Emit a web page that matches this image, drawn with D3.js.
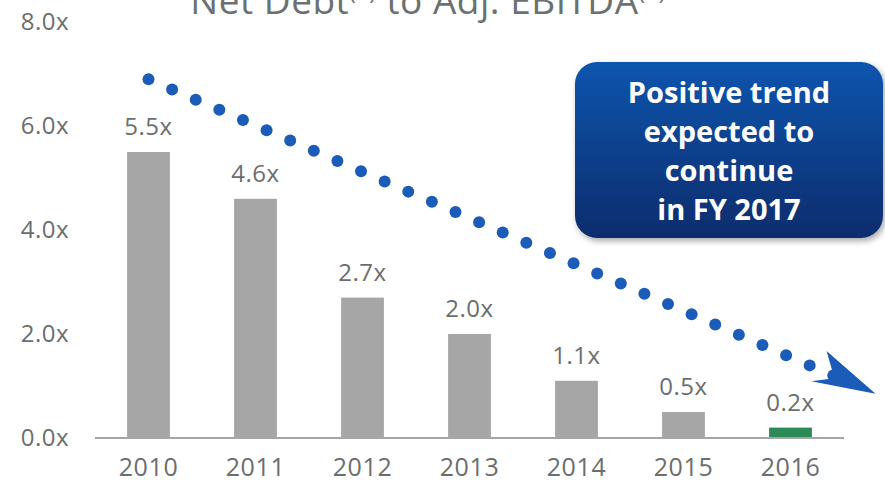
<!DOCTYPE html>
<html>
<head>
<meta charset="utf-8">
<script src="https://cdn.jsdelivr.net/npm/d3@7"></script>
<style>
  body { margin: 0; background: #fff; }
  svg { display: block; font-family: "Open Sans", "Liberation Sans", sans-serif; }
</style>
</head>
<body>
<div id="chart"></div>
<script>
// data
var years = ["2010", "2011", "2012", "2013", "2014", "2015", "2016"];
var ratios = [5.5, 4.6, 2.7, 2.0, 1.1, 0.5, 0.2];
var ratioLabels = ["5.5x", "4.6x", "2.7x", "2.0x", "1.1x", "0.5x", "0.2x"];
var yTicks = [0, 2, 4, 6, 8];
// trend line: start / end in (year position, value)
var trendYears = [2010, 2016.4];
var trendValues = [6.9, 1.2];
var calloutLines = ["Positive trend", "expected to", "continue", "in FY 2017"];

var width = 885, height = 485;
var margin = { top: 22, right: 41, bottom: 47, left: 95 };
var chartWidth = width - margin.left - margin.right;
var chartHeight = height - margin.top - margin.bottom;

var svg = d3.select("#chart").append("svg")
    .attr("width", width)
    .attr("height", height);

var defs = svg.append("defs");
var grad = defs.append("linearGradient")
    .attr("id", "boxGrad")
    .attr("x1", 0).attr("y1", 0).attr("x2", 0).attr("y2", 1);
grad.append("stop").attr("offset", "0%").attr("stop-color", "#0b55ae");
grad.append("stop").attr("offset", "100%").attr("stop-color", "#0a2c6c");
var shadow = defs.append("filter").attr("id", "shadow")
    .attr("x", "-10%").attr("y", "-10%").attr("width", "130%").attr("height", "130%");
shadow.append("feDropShadow")
    .attr("dx", 2).attr("dy", 3).attr("stdDeviation", 3)
    .attr("flood-color", "#000").attr("flood-opacity", 0.35);

var chartGroup = svg.append("g")
    .attr("transform", `translate(${margin.left}, ${margin.top})`);

// scales
var xScale = d3.scaleBand()
    .domain(years)
    .range([0, chartWidth])
    .paddingInner(0.6)
    .paddingOuter(0.3);

var yScale = d3.scaleLinear()
    .domain([0, 8])
    .range([chartHeight, 0]);

// linear year scale for the trend dots, aligned with band centres
var yearScale = d3.scaleLinear()
    .domain([2010, 2016])
    .range([xScale("2010") + xScale.bandwidth() / 2, xScale("2016") + xScale.bandwidth() / 2]);

// title (cut off at the top like the original)
svg.append("text")
    .attr("x", 428)
    .attr("y", 14)
    .attr("text-anchor", "middle")
    .attr("fill", "#6b7170")
    .attr("font-size", "37px")
    .attr("letter-spacing", "0.5px")
    .html('Net Debt<tspan font-size="22px" dy="-14">(1)</tspan><tspan dy="14"> to Adj. EBITDA</tspan><tspan font-size="22px" dy="-14">(1)</tspan>');

// y axis labels
chartGroup.selectAll(".ytick")
    .data(yTicks)
    .enter()
    .append("text")
    .attr("class", "ytick")
    .attr("x", -26)
    .attr("y", d => yScale(d))
    .attr("dy", "0.35em")
    .attr("text-anchor", "end")
    .attr("fill", "#6b6e6e")
    .attr("font-size", "24px")
    .attr("letter-spacing", "0.5px")
    .text(d => d.toFixed(1) + "x");

// bars
chartGroup.selectAll("rect.bar")
    .data(ratios)
    .enter()
    .append("rect")
    .attr("class", "bar")
    .attr("x", (d, i) => xScale(years[i]))
    .attr("y", d => yScale(d))
    .attr("width", xScale.bandwidth())
    .attr("height", d => chartHeight - yScale(d))
    .attr("fill", (d, i) => i === years.length - 1 ? "#2b8a57" : "#a6a6a6");

// value labels
chartGroup.selectAll("text.val")
    .data(ratios)
    .enter()
    .append("text")
    .attr("class", "val")
    .attr("x", (d, i) => xScale(years[i]) + xScale.bandwidth() / 2)
    .attr("y", d => yScale(d) - 17)
    .attr("text-anchor", "middle")
    .attr("fill", "#6b6e6e")
    .attr("font-size", "24px")
    .attr("letter-spacing", "0.5px")
    .text((d, i) => ratioLabels[i]);

// baseline
chartGroup.append("line")
    .attr("x1", 0)
    .attr("x2", chartWidth)
    .attr("y1", chartHeight)
    .attr("y2", chartHeight)
    .attr("stroke", "#a6a6a6")
    .attr("stroke-width", 2);

// x axis labels
var xAxis = d3.axisBottom(xScale).tickSize(0).tickPadding(20);
var xg = chartGroup.append("g")
    .attr("transform", `translate(0, ${chartHeight})`)
    .call(xAxis);
xg.select(".domain").remove();
xg.selectAll("text")
    .attr("fill", "#6b6e6e")
    .attr("font-size", "25px")
    .attr("letter-spacing", "0.6px")
    .attr("font-family", "'Open Sans', sans-serif");

// dotted trend line
var nDots = 30;
var trendDots = d3.range(nDots).map(function (i) {
    var t = i / (nDots - 1);
    return {
        x: yearScale(trendYears[0] + t * (trendYears[1] - trendYears[0])),
        y: yScale(trendValues[0] + t * (trendValues[1] - trendValues[0]))
    };
});
chartGroup.selectAll("circle.trend")
    .data(trendDots)
    .enter()
    .append("circle")
    .attr("class", "trend")
    .attr("cx", d => d.x)
    .attr("cy", d => d.y)
    .attr("r", 6)
    .attr("fill", "#1a5cb8");

// arrow head
var endX = yearScale(trendYears[1]), endY = yScale(trendValues[1]);
var ang = Math.atan2(endY - trendDots[nDots - 2].y, endX - trendDots[nDots - 2].x);
var arrow = [[-16, -20], [46, 0], [-18, 14], [2, 2]];
chartGroup.append("path")
    .attr("d", "M" + arrow.map(p => p.join(",")).join("L") + "Z")
    .attr("transform", `translate(${endX}, ${endY}) rotate(${ang * 180 / Math.PI})`)
    .attr("fill", "#1a5cb8");

// callout box
var box = svg.append("g").attr("transform", "translate(575, 62)");
box.append("rect")
    .attr("width", 308)
    .attr("height", 176)
    .attr("rx", 22)
    .attr("fill", "url(#boxGrad)")
    .attr("filter", "url(#shadow)");
box.selectAll("text")
    .data(calloutLines)
    .enter()
    .append("text")
    .attr("x", 154)
    .attr("y", (d, i) => 31 + i * 38.8)
    .attr("dy", "0.35em")
    .attr("text-anchor", "middle")
    .attr("fill", "#fff")
    .attr("font-size", "29px")
    .attr("font-weight", "bold")
    .attr("font-family", "'Open Sans', sans-serif")
    .text(d => d);
</script>
</body>
</html>
